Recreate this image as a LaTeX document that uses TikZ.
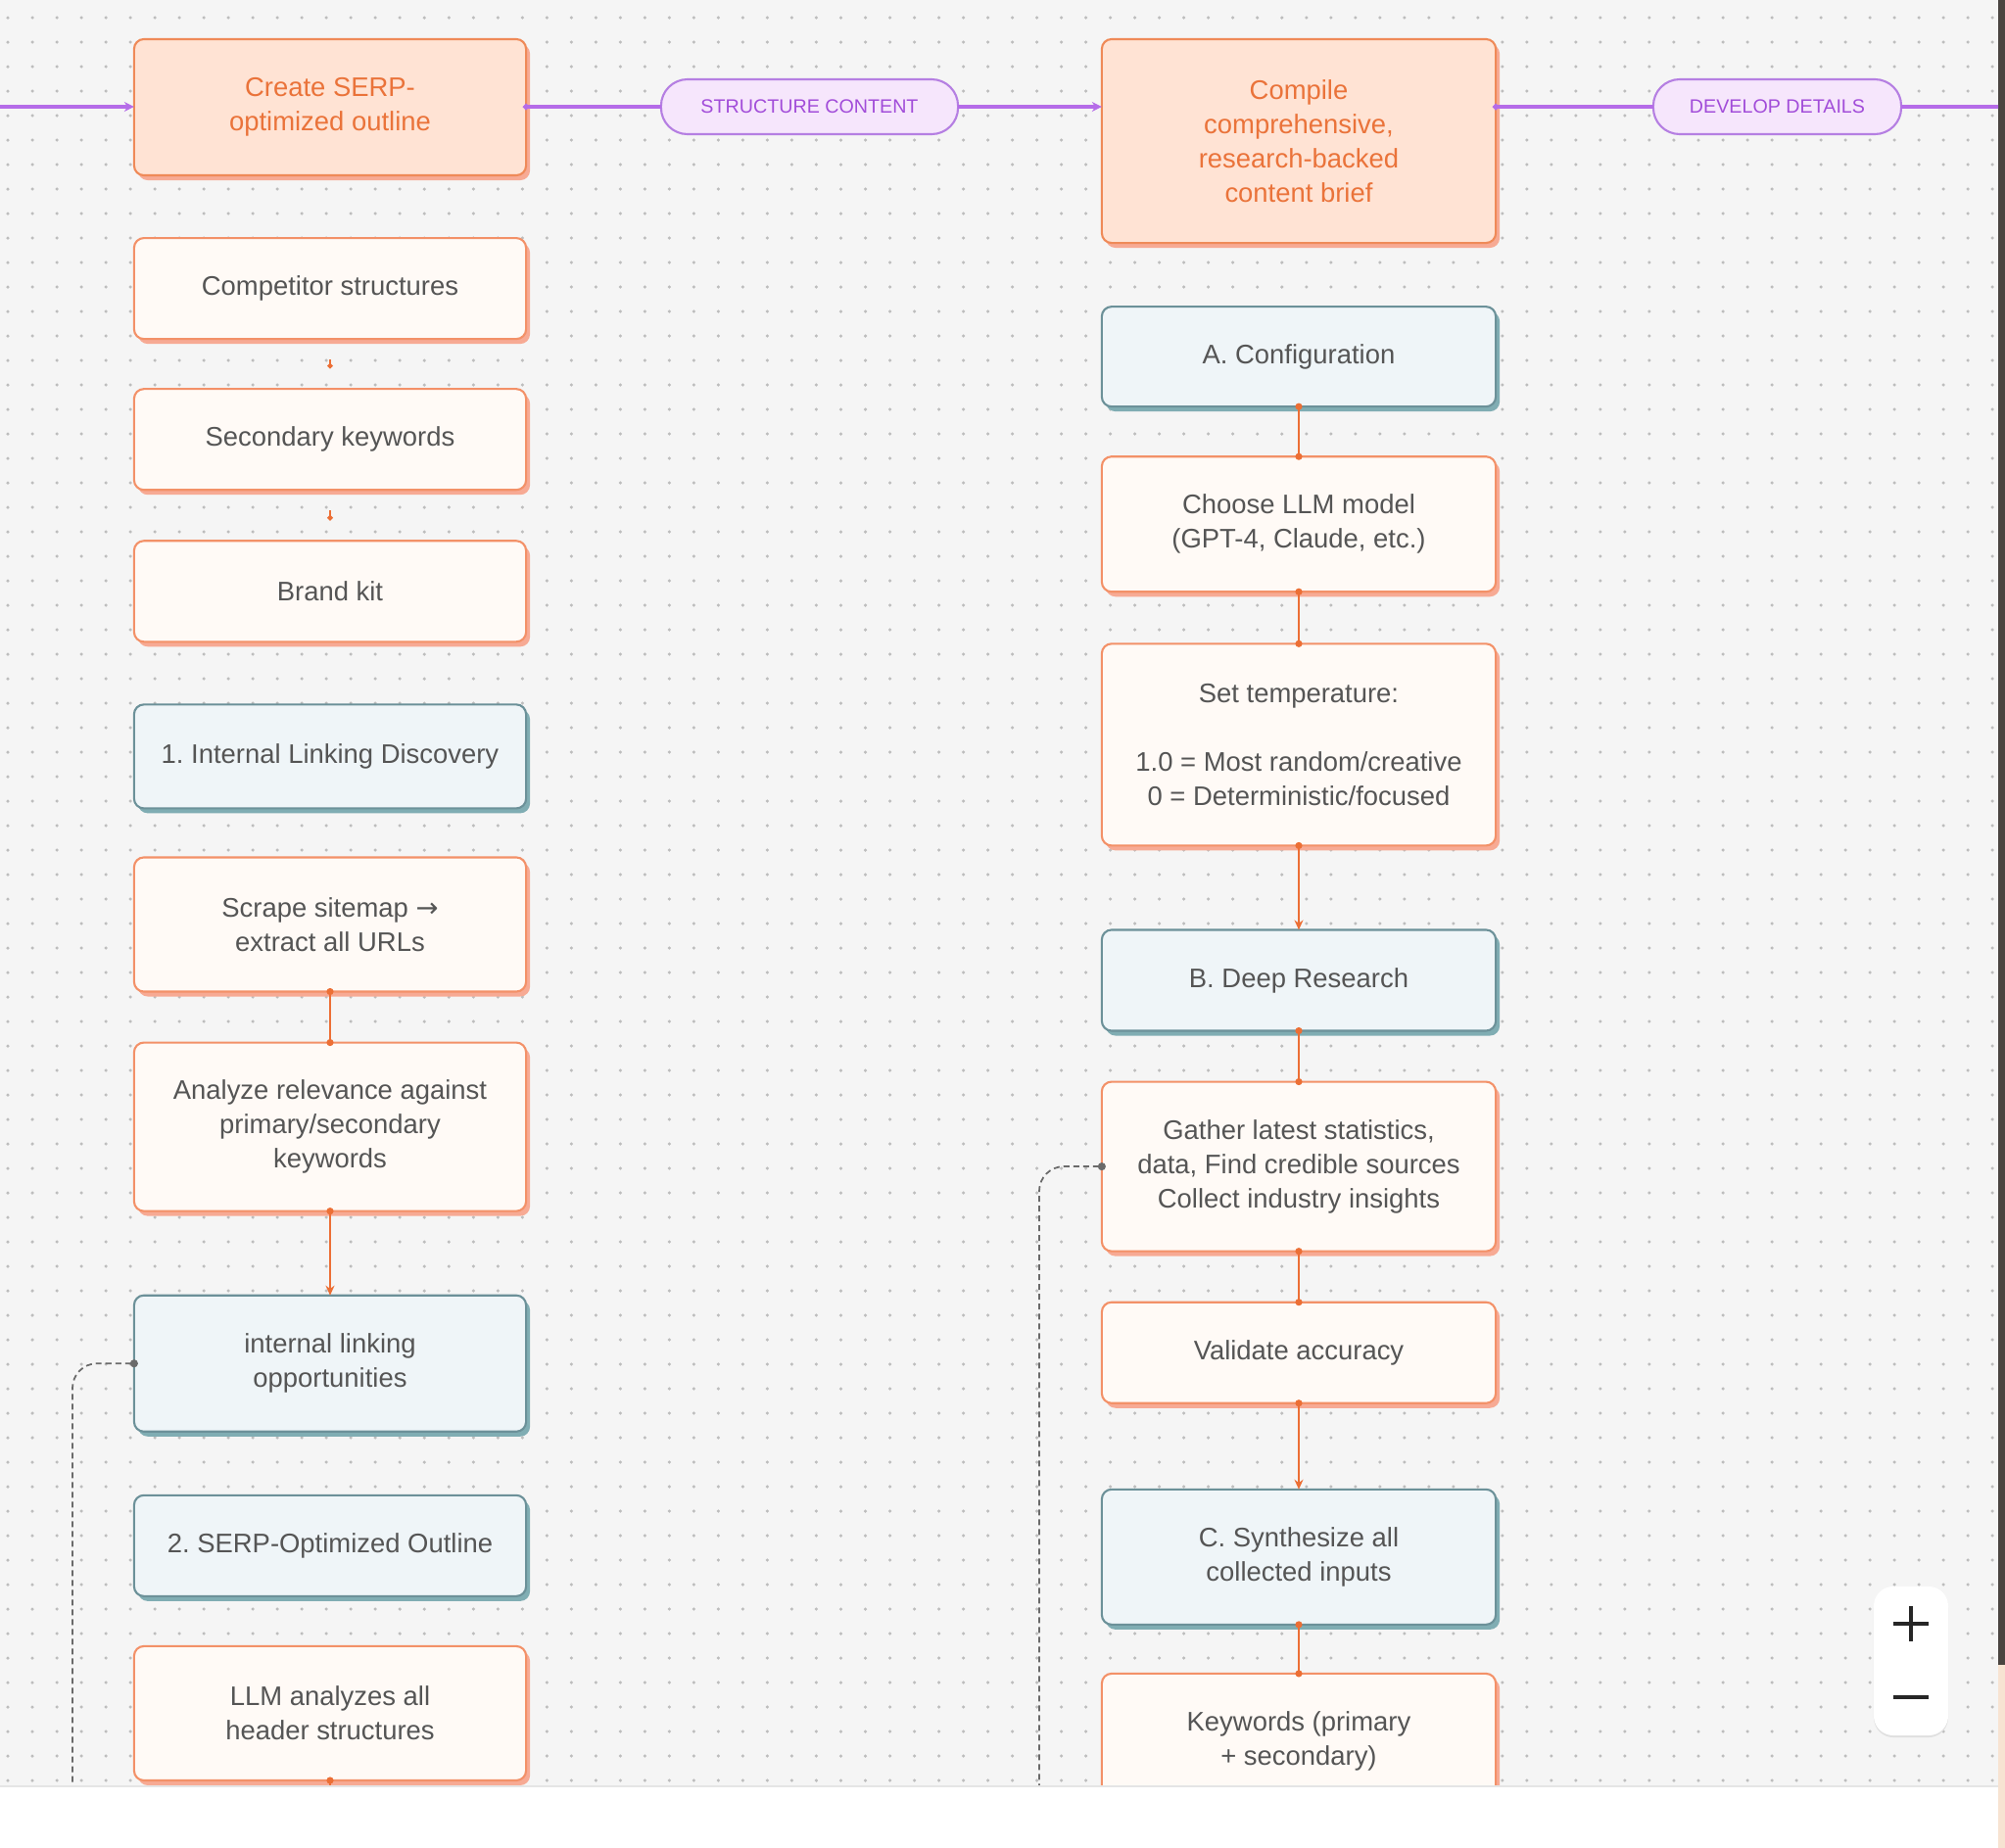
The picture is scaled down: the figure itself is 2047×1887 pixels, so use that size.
\documentclass[tikz,border=0pt]{standalone}
\usepackage{fontspec}
\setmainfont{Liberation Sans}
\newfontfamily\arrowfont{DejaVu Sans}
\usetikzlibrary{positioning}
\usetikzlibrary{arrows.meta}
\usetikzlibrary{shadows}

\definecolor{canvas}{HTML}{F5F5F5}
\definecolor{griddot}{HTML}{BDBDBD}
\definecolor{inkgray}{HTML}{555555}
\definecolor{flowpurple}{HTML}{B56CE8}
\definecolor{pillfill}{HTML}{F6E6FC}
\definecolor{pillline}{HTML}{B57FE2}
\definecolor{pilltext}{HTML}{A24DD9}
\definecolor{headfill}{HTML}{FFE3D4}
\definecolor{headline}{HTML}{EF8A58}
\definecolor{headtext}{HTML}{EA733A}
\definecolor{infill}{HTML}{FFFAF6}
\definecolor{inborder}{HTML}{F39168}
\definecolor{peachshadow}{HTML}{F7AA94}
\definecolor{stepfill}{HTML}{EFF5F8}
\definecolor{stepline}{HTML}{6C9199}
\definecolor{tealshadow}{HTML}{80ADB3}
\definecolor{linkorange}{HTML}{EC6F35}
\definecolor{dashgray}{HTML}{6A6A6A}
\definecolor{sidestrip}{HTML}{4A4541}
\definecolor{sidebeige}{HTML}{F7E3D2}

\tikzset{x=0.01cm, y=-0.01cm, % one unit = one pixel of the screenshot
every node/.style={font=\fontsize{7.8}{10}\selectfont\frenchspacing, text=inkgray, align=center, outer sep=0pt},
box/.style={rectangle, rounded corners=0.1cm, line width=0.6pt, minimum width=4cm, inner sep=0pt},
headbox/.style={box, draw=headline, fill=headfill, text=headtext,
drop shadow={shadow xshift=0.04cm, shadow yshift=-0.05cm, fill=peachshadow, opacity=1}},
inbox/.style={box, draw=inborder, fill=infill,
drop shadow={shadow xshift=0.04cm, shadow yshift=-0.05cm, fill=peachshadow, opacity=1}},
stepbox/.style={box, draw=stepline, fill=stepfill,
drop shadow={shadow xshift=0.04cm, shadow yshift=-0.05cm, fill=tealshadow, opacity=1}},
pill/.style={rectangle, rounded corners=0.27cm, draw=pillline, fill=pillfill, text=pilltext,
font=\fontsize{5.6}{7}\selectfont, minimum height=0.56cm, line width=0.6pt},
flow/.style={draw=flowpurple, line width=0.9pt},
linkdot/.style={draw=linkorange, line width=0.7pt, {Circle[length=0.07cm]}-{Circle[length=0.07cm]},
shorten <=-0.035cm, shorten >=-0.035cm},
linkarrow/.style={draw=linkorange, line width=0.7pt, {Circle[length=0.07cm]}-{Stealth[length=0.1cm, width=0.09cm]},
shorten <=-0.035cm},
linktick/.style={draw=linkorange, line width=0.7pt, -{Circle[length=0.05cm]},
shorten <=0.21cm, shorten >=0.21cm},
dashlink/.style={draw=dashgray, line width=0.5pt, dash pattern=on 0.06cm off 0.04cm,
rounded corners=0.25cm, {Circle[length=0.08cm]}-, shorten <=-0.04cm},
griddots/.style={draw=griddot, line width=0.035cm, line cap=round, dash pattern=on 0pt off 0.25cm},
zoomctl/.style={rectangle, rounded corners=0.2cm, fill=white, minimum width=0.76cm, minimum height=1.52cm,
drop shadow={shadow xshift=0cm, shadow yshift=-0.02cm, fill=black!12, opacity=1}},
ctlmark/.style={draw=black!85, line width=1pt}}

\begin{document}
\begin{tikzpicture}
\useasboundingbox (0,0) rectangle (2047,1887);
\fill[white] (0,0) rectangle (2047,1887);
\fill[sidestrip] (2040,0) rectangle (2047,1700);
\fill[sidebeige] (2040,1700) rectangle (2047,1887);

\begin{scope}
\clip (0,0) rectangle (2040,1824);
\fill[canvas] (0,0) rectangle (2040,1824);
% dot grid of the canvas
\foreach \gy in {18,43,...,1818}
\draw[griddots] (8,\gy) -- (2040,\gy);

% left column
\node[headbox, minimum height=1.39cm] (outline) at (337,109.5) {Create SERP-\\optimized outline};
\node[inbox, minimum height=1.03cm, below=0.64cm of outline] (competitors) {Competitor structures};
\node[inbox, minimum height=1.03cm, below=0.51cm of competitors] (secondary) {Secondary keywords};
\node[inbox, minimum height=1.03cm, below=0.52cm of secondary] (brandkit) {Brand kit};
\node[stepbox, minimum height=1.06cm, below=0.64cm of brandkit] (linking) {1. Internal Linking Discovery};
\node[inbox, minimum height=1.37cm, below=0.50cm of linking] (scrape) {Scrape sitemap {\arrowfont →}\\extract all URLs};
\node[inbox, minimum height=1.72cm, below=0.52cm of scrape] (relevance) {Analyze relevance against\\primary/secondary\\keywords};
\node[stepbox, minimum height=1.39cm, below=0.86cm of relevance] (opportunities) {internal linking\\opportunities};
\node[stepbox, minimum height=1.03cm, below=0.65cm of opportunities] (serpoutline) {2. SERP-Optimized Outline};
\node[inbox, minimum height=1.37cm, below=0.51cm of serpoutline] (headers) {LLM analyzes all\\header structures};

% right column
\node[headbox, minimum height=2.08cm, minimum width=4.02cm] (brief) at (1326,144) {Compile\\comprehensive,\\research-backed\\content brief};
\node[stepbox, minimum height=1.02cm, minimum width=4.02cm, below=0.65cm of brief] (config) {A. Configuration};
\node[inbox, minimum height=1.38cm, minimum width=4.02cm, below=0.51cm of config] (model) {Choose LLM model\\(GPT-4, Claude, etc.)};
\node[inbox, minimum height=2.06cm, minimum width=4.02cm, below=0.53cm of model] (temperature) {Set temperature:\\[10pt]1.0 = Most random/creative\\0 = Deterministic/focused};
\node[stepbox, minimum height=1.03cm, minimum width=4.02cm, below=0.86cm of temperature] (research) {B. Deep Research};
\node[inbox, minimum height=1.73cm, minimum width=4.02cm, below=0.52cm of research] (gather) {Gather latest statistics,\\data, Find credible sources\\Collect industry insights};
\node[inbox, minimum height=1.03cm, minimum width=4.02cm, below=0.52cm of gather] (validate) {Validate accuracy};
\node[stepbox, minimum height=1.38cm, minimum width=4.02cm, below=0.88cm of validate] (synthesize) {C. Synthesize all\\collected inputs};
\node[inbox, minimum height=1.38cm, minimum width=4.02cm, below=0.50cm of synthesize] (keywords) {Keywords (primary\\+ secondary)};

% stage pills on the main line
\node[pill, minimum width=3.03cm] (structure) at (826.5,109) {STRUCTURE CONTENT};
\node[pill, minimum width=2.53cm] (develop) at (1814.5,109) {DEVELOP DETAILS};

\coordinate (flowin) at (0,109);
\coordinate (flowout) at (2045,109);
\coordinate (headersout) at (337,1860);
\coordinate (linkdrop) at (74,1830);
\coordinate (gatherdrop) at (1061,1830);

% main line
\draw[flow, -{Stealth[length=0.1cm, width=0.1cm]}] (flowin) -- (outline.west |- flowin);
\draw[flow, {Circle[length=0.06cm]}-, shorten <=-0.03cm] (outline.east |- structure) -- (structure);
\draw[flow, -{Stealth[length=0.1cm, width=0.1cm]}] (structure) -- (structure -| brief.west);
\draw[flow, {Circle[length=0.06cm]}-, shorten <=-0.03cm] (structure -| brief.east) -- (develop);
\draw[flow] (develop) -- (flowout);

% links, left column
\draw[linktick] (competitors) -- (secondary);
\draw[linktick] (secondary) -- (brandkit);
\draw[linkdot] (scrape) -- (relevance);
\draw[linkarrow] (relevance) -- (opportunities);
\draw[linkdot] (headers) -- (headersout);

% links, right column
\draw[linkdot] (config) -- (model);
\draw[linkdot] (model) -- (temperature);
\draw[linkarrow] (temperature) -- (research);
\draw[linkdot] (research) -- (gather);
\draw[linkdot] (gather) -- (validate);
\draw[linkarrow] (validate) -- (synthesize);
\draw[linkdot] (synthesize) -- (keywords);

% dashed side links
\draw[dashlink] (opportunities.west) -- (linkdrop |- opportunities.west) -- (linkdrop);
\draw[dashlink] (gather.west) -- (gatherdrop |- gather.west) -- (gatherdrop);

% zoom control
\node[zoomctl] (zoombox) at (1951,1696) {};
\draw[ctlmark] (1933,1658) -- (1969,1658) (1951,1640) -- (1951,1676);
\draw[ctlmark] (1933,1733) -- (1969,1733);
\end{scope}
\draw[black!10, line width=0.5pt] (0,1824) -- (2040,1824);
\end{tikzpicture}
\end{document}
